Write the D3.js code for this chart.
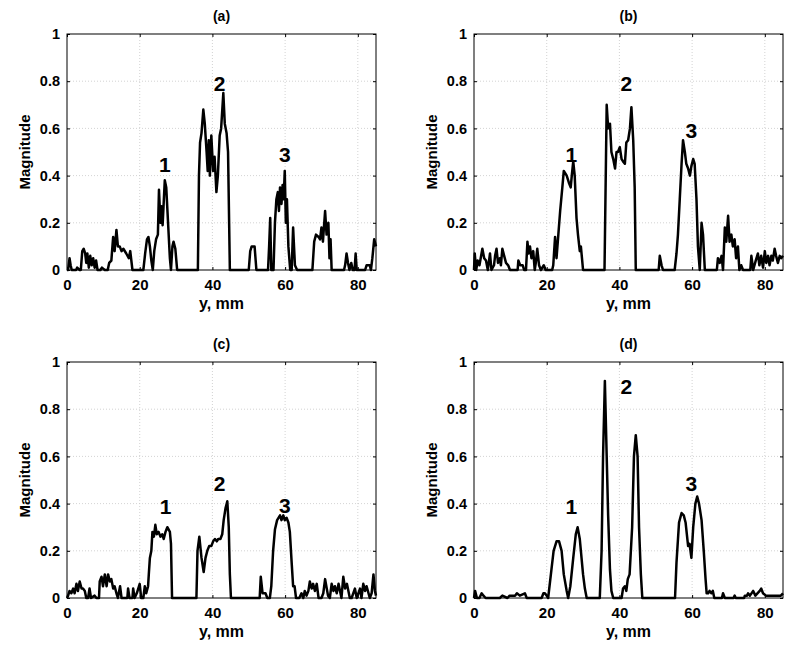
<!DOCTYPE html>
<html><head><meta charset="utf-8">
<script src="https://cdn.jsdelivr.net/npm/d3@7"></script>
<style>
body{margin:0;background:#fff;}
text{font-family:"Liberation Sans",Arial,sans-serif;font-weight:bold;}
</style></head>
<body><svg id="c" width="800" height="652"></svg>
<script>
// ---- data (y in mm, magnitude) ----
const panelTitles = ["(a)", "(b)", "(c)", "(d)"];
const xTicks = [0, 20, 40, 60, 80];
const yTicks = [0, 0.2, 0.4, 0.6, 0.8, 1];
const yTickLabels = ["0", "0.2", "0.4", "0.6", "0.8", "1"];
const peakLabels = ["1", "2", "3"];

const posA = [0,0.3,0.7,1.0,1.3,2.5,2.8,3.5,3.8,4.2,4.6,5.0,5.3,5.6,6.0,6.4,6.8,7.2,7.6,8.0,8.4,9.2,9.6,10.4,11.2,11.6,12.2,12.7,13.1,13.6,14.0,14.5,15.0,15.5,16.3,17.0,17.4,18.0,21.0,21.5,22.0,22.4,22.8,23.2,23.6,24.0,24.5,25.0,25.3,25.7,26.0,26.3,26.9,27.3,27.8,28.3,28.6,29.0,29.3,29.8,30.3,36.0,36.3,36.6,37.0,37.5,37.9,38.4,38.7,39.0,39.3,39.7,40.2,40.6,41.1,41.5,42.0,42.4,43.0,43.4,43.9,44.3,44.8,50.0,50.4,50.8,51.6,52.1,55.3,55.6,55.9,56.2,56.8,57.2,57.6,58.0,58.3,58.6,59.0,59.3,59.6,59.9,60.2,60.5,60.9,61.4,61.8,62.2,62.7,63.3,67.5,68.0,68.5,69.2,69.6,70.0,70.4,71.0,71.4,71.9,72.2,72.5,72.8,76.2,76.5,76.9,77.3,77.7,78.2,78.6,79.1,79.4,79.7,82.0,82.4,83.3,83.6,84.0,84.5,85];
const magA = [0,0,0.05,0.02,0,0,0.01,0,0,0.08,0.09,0.07,0.03,0.07,0.01,0.06,0.02,0.05,0.01,0.04,0,0,0.01,0,0,0.03,0.04,0.14,0.08,0.17,0.1,0.1,0.08,0.09,0.07,0.05,0.08,0,0,0.07,0.13,0.14,0.1,0.04,0,0.08,0.13,0.15,0.34,0.2,0.27,0.19,0.38,0.35,0.2,0.05,0,0.1,0.12,0.09,0,0,0.4,0.54,0.58,0.68,0.62,0.5,0.42,0.55,0.4,0.57,0.42,0.48,0.33,0.4,0.57,0.6,0.75,0.62,0.58,0.5,0,0,0.08,0.1,0.1,0,0,0.1,0.22,0,0,0.2,0.3,0.33,0.25,0.35,0.28,0.36,0.3,0.42,0.2,0.3,0.1,0,0,0.18,0.02,0,0,0.12,0.15,0.14,0.13,0.18,0.12,0.25,0.15,0.2,0.05,0.13,0,0,0.02,0.07,0.03,0,0.03,0,0,0.07,0,0,0.02,0.02,0,0.05,0.13,0.1];

const posB = [0,0.2,0.6,1.0,1.5,2.3,2.8,3.3,3.8,4.4,4.8,5.5,5.8,6.2,6.6,7.1,7.4,7.8,8.3,8.8,9.4,9.9,12.0,12.2,12.7,13.4,13.8,14.3,14.7,15.0,15.4,15.8,16.3,16.7,17.0,17.4,17.9,18.4,19.2,19.7,21.5,21.8,22.3,22.7,23.2,23.7,24.3,24.7,25.5,26.1,26.6,26.9,27.3,27.7,28.2,28.6,29.1,29.4,29.7,30.0,35.9,36.5,36.9,37.4,37.8,38.3,38.8,39.2,39.6,40.1,40.6,41.0,41.5,41.9,42.4,42.9,43.3,43.8,44.2,44.5,50.8,51.1,51.6,52.0,55.2,55.7,56.1,56.6,57.1,57.5,58.0,58.4,58.9,59.4,59.8,60.3,60.7,61.2,61.6,62.1,62.6,63.0,63.5,66.8,67.1,67.6,68.1,68.5,69.0,69.4,69.9,70.3,70.8,71.2,71.7,72.1,72.6,73.0,73.5,74.0,76.0,76.3,76.8,77.5,78.1,78.5,79.0,79.5,80.0,80.4,80.9,81.3,81.8,82.2,82.7,83.1,83.6,84.1,84.5,85];
const magB = [0,0.07,0,0.04,0.02,0.09,0.05,0.04,0,0.07,0,0.02,0.06,0.09,0.03,0.05,0.02,0.09,0.06,0.03,0.02,0,0,0.04,0.02,0.02,0,0,0.12,0.07,0.1,0.05,0.08,0,0.03,0.09,0.02,0,0.02,0,0,0.02,0.14,0.05,0.15,0.25,0.35,0.42,0.4,0.37,0.35,0.4,0.46,0.4,0.22,0.15,0.08,0.1,0.05,0,0,0.7,0.6,0.62,0.5,0.47,0.43,0.5,0.5,0.52,0.47,0.46,0.45,0.54,0.55,0.6,0.69,0.55,0.35,0,0,0.06,0.02,0,0,0.07,0.15,0.3,0.45,0.55,0.5,0.45,0.43,0.4,0.44,0.47,0.45,0.3,0.1,0,0.2,0.15,0,0,0.05,0.03,0.06,0,0.18,0.12,0.23,0.12,0.15,0.1,0.13,0.05,0.1,0,0.02,0,0,0.06,0,0.04,0.07,0.02,0.06,0.01,0.08,0.03,0.06,0.02,0.06,0.04,0.09,0.06,0.03,0.06,0.05,0.06];

const posC = [0,0.3,0.7,1.2,1.7,2.1,2.6,3.0,3.5,4.0,4.4,4.9,5.3,5.8,6.2,6.6,7.6,8.1,8.8,9.0,9.5,9.9,10.4,10.9,11.3,11.8,12.2,12.7,13.1,13.6,14.0,14.6,15.0,15.4,16.6,16.8,17.2,18.0,18.2,18.6,19.2,20.0,20.4,21.0,21.4,21.8,22.3,22.5,22.8,23.2,23.5,23.9,24.3,24.7,25.2,25.7,26.2,26.6,27.1,27.6,28.3,28.6,28.9,35.6,35.9,36.4,37.0,37.6,38.1,38.6,39.1,39.7,40.2,40.7,41.2,41.6,42.2,42.7,43.1,43.6,44.1,44.5,44.8,45.1,53.0,53.3,53.8,54.2,54.6,55.1,55.8,56.2,56.7,57.2,57.8,58.6,59.0,59.5,59.9,60.4,60.9,61.3,61.8,62.2,62.6,63.0,63.9,64.5,65.0,65.4,65.9,66.4,66.8,67.3,67.7,68.2,68.7,69.2,70.0,70.5,71.0,71.8,72.3,72.8,73.3,73.7,74.2,74.7,75.1,75.5,76.0,76.5,77.0,77.8,78.3,79.2,79.7,80.6,81.0,81.5,82.0,82.4,83.3,83.8,84.3,84.7,85];
const magC = [0,0.01,0.03,0.02,0.04,0.02,0.06,0.03,0.07,0.04,0.04,0.03,0,0,0.04,0,0.01,0,0,0.07,0.09,0.05,0.1,0.05,0.1,0.07,0.08,0.04,0.05,0.02,0,0.05,0,0,0,0.04,0,0,0.04,0,0.02,0.06,0,0,0.05,0.02,0.05,0.1,0.17,0.2,0.28,0.26,0.31,0.27,0.28,0.26,0.27,0.25,0.28,0.3,0.28,0.23,0,0,0.2,0.26,0.17,0.11,0.17,0.2,0.22,0.22,0.24,0.25,0.24,0.25,0.25,0.27,0.33,0.38,0.41,0.3,0.1,0,0,0.09,0.02,0.02,0.02,0,0,0.05,0.2,0.29,0.33,0.35,0.33,0.35,0.33,0.34,0.32,0.28,0.15,0.05,0.05,0,0,0.02,0,0.03,0.01,0.03,0.07,0.04,0.06,0.03,0.06,0,0,0.02,0.08,0.01,0,0.06,0.03,0.05,0.02,0.06,0.03,0,0.09,0.04,0.06,0,0,0.04,0,0.04,0,0.06,0.03,0.05,0,0.02,0.1,0.03,0.01,0.04,0];

const posD = [0,0.3,0.8,1.5,2.1,2.6,3.2,7.1,7.8,9.2,9.8,11.3,11.8,12.6,14.0,14.5,18.6,19.1,19.5,20.0,20.4,21.3,21.9,22.7,23.4,24.1,24.7,25.5,25.9,26.5,27.3,28.0,28.5,29.1,30.0,30.5,31.0,34.6,35.1,35.5,36.0,36.5,36.9,37.4,37.8,38.3,40.6,41.0,41.5,41.9,42.3,42.8,43.5,44.0,44.5,45.0,45.4,45.9,46.3,55.3,55.7,56.4,57.1,57.7,58.2,58.9,59.3,59.8,60.3,60.9,61.4,61.9,62.6,63.2,63.7,64.0,64.4,64.8,65.3,65.7,66.1,68.2,68.5,69.0,71.4,71.7,72.0,74.3,74.5,75.1,75.4,75.9,76.8,77.4,78.6,79.0,79.5,80.3,81.5,82.3,83.6,84.4,85];
const magD = [0,0.03,0,0,0.02,0.01,0,0,0.01,0,0.01,0.01,0.02,0.01,0.02,0,0,0.02,0.02,0.01,0,0.12,0.2,0.24,0.24,0.2,0.1,0.03,0,0.05,0.17,0.27,0.3,0.25,0.1,0.04,0,0,0.2,0.6,0.92,0.6,0.35,0.12,0.03,0,0,0.04,0.05,0.03,0.08,0.1,0.3,0.6,0.69,0.6,0.3,0.1,0,0,0.15,0.32,0.36,0.35,0.32,0.22,0.23,0.17,0.3,0.4,0.43,0.4,0.33,0.2,0.08,0.02,0.02,0.03,0.02,0.03,0,0,0.02,0,0,0.01,0,0,0.01,0.01,0.02,0.01,0.03,0.01,0.03,0.04,0.02,0.01,0.01,0.01,0.01,0.01,0.02];

const peakPosA = [26.9, 42.0, 59.9], peakMagA = [0.445, 0.79, 0.487];
const peakPosB = [26.8, 41.9, 59.8], peakMagB = [0.49, 0.79, 0.59];
const peakPosC = [27.1, 42.0, 59.9], peakMagC = [0.386, 0.484, 0.39];
const peakPosD = [26.8, 41.9, 59.8], peakMagD = [0.386, 0.894, 0.484];

const panels = [
  {title: panelTitles[0], xs: posA, ys: magA, px: peakPosA, py: peakMagA, left: 67, top: 34},
  {title: panelTitles[1], xs: posB, ys: magB, px: peakPosB, py: peakMagB, left: 474, top: 34},
  {title: panelTitles[2], xs: posC, ys: magC, px: peakPosC, py: peakMagC, left: 67, top: 362},
  {title: panelTitles[3], xs: posD, ys: magD, px: peakPosD, py: peakMagD, left: 474, top: 362}
];
const W = 309, H = 236;

const svg = d3.select("#c");
panels.forEach(p => {
  const g = svg.append("g").attr("transform", `translate(${p.left},${p.top})`);
  const x = d3.scaleLinear().domain([0, 85]).range([0, W]);
  const y = d3.scaleLinear().domain([0, 1]).range([H, 0]);

  // grid
  g.append("g").selectAll("line").data(xTicks.slice(1)).join("line")
    .attr("x1", d => x(d)).attr("x2", d => x(d)).attr("y1", 0).attr("y2", H)
    .attr("stroke", "#c8c8c8").attr("stroke-width", 0.8).attr("stroke-dasharray", "1,2");
  g.append("g").selectAll("line").data(yTicks.slice(1, -1)).join("line")
    .attr("y1", d => y(d)).attr("y2", d => y(d)).attr("x1", 0).attr("x2", W)
    .attr("stroke", "#c8c8c8").attr("stroke-width", 0.8).attr("stroke-dasharray", "1,2");

  // axes
  const fmtY = d => yTickLabels[yTicks.indexOf(d)];
  const xa = g.append("g").attr("transform", `translate(0,${H})`)
    .call(d3.axisBottom(x).tickValues(xTicks).tickSize(-3).tickPadding(9).tickSizeOuter(0));
  const ya = g.append("g")
    .call(d3.axisLeft(y).tickValues(yTicks).tickFormat(fmtY).tickSize(-3).tickPadding(7).tickSizeOuter(0));
  g.append("g").call(d3.axisTop(x).tickValues(xTicks).tickSize(-3).tickFormat("").tickSizeOuter(0));
  g.append("g").attr("transform", `translate(${W},0)`)
    .call(d3.axisRight(y).tickValues(yTicks).tickSize(-3).tickFormat("").tickSizeOuter(0));
  g.selectAll(".domain").remove();
  g.selectAll(".tick text").attr("font-family", "Liberation Sans, Arial, sans-serif")
    .attr("font-weight", "bold").attr("fill", "#000");
  xa.selectAll(".tick text").attr("font-size", 15);
  ya.selectAll(".tick text").attr("font-size", 14.5);
  g.selectAll(".tick line").attr("stroke", "#000");
  g.append("rect").attr("x", 0).attr("y", 0).attr("width", W).attr("height", H)
    .attr("fill", "none").attr("stroke", "#000").attr("stroke-width", 1);

  // curve
  const pts = p.xs.map((v, i) => [v, p.ys[i]]);
  g.append("path").datum(pts)
    .attr("d", d3.line().x(d => x(d[0])).y(d => y(d[1])))
    .attr("fill", "none").attr("stroke", "#000").attr("stroke-width", 2.5)
    .attr("stroke-linejoin", "round");

  // peak labels
  g.selectAll("text.pk").data(peakLabels).join("text").attr("class", "pk")
    .attr("x", (d, i) => x(p.px[i])).attr("y", (d, i) => y(p.py[i]))
    .attr("dy", "0.35em").attr("text-anchor", "middle").attr("font-size", 21).text(d => d);

  // titles and labels
  g.append("text").attr("x", W / 2).attr("y", -13).attr("text-anchor", "middle")
    .attr("font-size", 14).text(p.title);
  g.append("text").attr("x", W / 2).attr("y", H + 39).attr("text-anchor", "middle")
    .attr("font-size", 16).text("y, mm");
  g.append("text").attr("transform", `translate(-37,${H / 2}) rotate(-90)`)
    .attr("text-anchor", "middle").attr("font-size", 15).text("Magnitude");
});
</script></body></html>
